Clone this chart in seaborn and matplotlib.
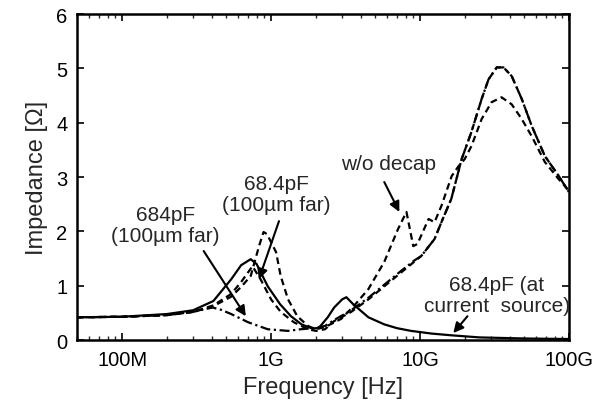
import numpy as np
import pandas as pd
import matplotlib
matplotlib.use("Agg")
import matplotlib.pyplot as plt
import seaborn as sns

# ---- data (frequency in Hz, impedance in Ohm) ----
f_wo = [5e7, 1e8, 2e8, 3e8, 4e8, 5.4e8, 6.3e8, 7.3e8, 8.3e8, 8.9e8, 9.4e8, 1.08e9, 1.16e9,
        1.3e9, 1.5e9, 1.77e9, 2.0e9, 2.3e9, 2.95e9, 3.6e9, 4.5e9, 5.75e9, 7.1e9, 8.1e9,
        9.0e9, 9.6e9, 1.14e10, 1.25e10, 1.39e10, 1.63e10, 1.81e10, 1.99e10, 2.21e10,
        2.59e10, 3.02e10, 3.52e10, 4.12e10, 4.81e10, 5.62e10, 6.87e10, 8.53e10, 1e11]
z_wo = [0.42, 0.43, 0.46, 0.52, 0.61, 0.80, 0.98, 1.18, 1.73, 1.99, 1.95, 1.62, 1.18,
        0.75, 0.44, 0.26, 0.20, 0.24, 0.39, 0.63, 0.94, 1.44, 2.04, 2.36,
        1.73, 1.77, 2.23, 2.17, 2.47, 3.02, 3.20, 3.33, 3.57,
        4.07, 4.38, 4.47, 4.34, 4.07, 3.75, 3.28, 2.96, 2.75]

f_far68 = [5e7, 1e8, 2e8, 3e8, 4.1e8, 5.4e8, 6.3e8, 7.5e8, 8.5e8, 1e9, 1.16e9, 1.42e9,
           1.77e9, 2.0e9, 2.3e9, 2.65e9, 3.45e9, 4.5e9, 5.75e9, 7.5e9, 9.2e9, 1.02e10,
           1.25e10, 1.39e10, 1.62e10, 1.9e10, 2.21e10, 2.59e10, 2.88e10, 3.27e10, 3.63e10,
           4.12e10, 4.81e10, 5.62e10, 6.87e10, 8.53e10, 1e11]
z_far68 = [0.42, 0.43, 0.46, 0.52, 0.64, 0.85, 1.07, 1.36, 1.12, 0.75, 0.52, 0.33,
           0.20, 0.17, 0.20, 0.35, 0.52, 0.75, 0.99, 1.25, 1.45, 1.55,
           1.86, 2.17, 2.60, 3.33, 3.83, 4.44, 4.80, 5.02, 5.02,
           4.86, 4.44, 3.94, 3.39, 3.02, 2.72]

f_far684 = [5e7, 1e8, 2e8, 3e8, 3.6e8, 4.05e8, 4.6e8, 5.4e8, 7e8, 9.5e8, 1.3e9, 1.58e9,
            1.9e9, 2.3e9, 2.65e9, 3.45e9, 4.5e9, 5.75e9, 7.5e9, 9.2e9, 1.02e10,
            1.25e10, 1.39e10, 1.62e10, 1.9e10, 2.21e10, 2.59e10, 2.88e10, 3.27e10, 3.63e10,
            4.12e10, 4.81e10, 5.62e10, 6.87e10, 8.53e10, 1e11]
z_far684 = [0.42, 0.43, 0.46, 0.52, 0.57, 0.60, 0.56, 0.48, 0.33, 0.20, 0.17, 0.20,
            0.22, 0.26, 0.37, 0.55, 0.78, 1.02, 1.28, 1.47, 1.55,
            1.86, 2.17, 2.60, 3.33, 3.83, 4.44, 4.80, 5.02, 5.02,
            4.86, 4.44, 3.94, 3.39, 3.02, 2.72]

f_cs = [5e7, 1e8, 2e8, 3e8, 4.1e8, 5.4e8, 6.3e8, 7.3e8, 8.0e8, 9.5e8, 1.15e9, 1.36e9,
        1.6e9, 1.9e9, 2.1e9, 2.4e9, 2.65e9, 3.0e9, 3.2e9, 3.56e9, 4.5e9, 5.75e9, 7e9,
        8.7e9, 1.2e10, 1.6e10, 2.5e10, 5e10, 1e11]
z_cs = [0.42, 0.43, 0.48, 0.55, 0.72, 1.12, 1.38, 1.49, 1.40, 0.99, 0.66, 0.44,
        0.29, 0.21, 0.23, 0.42, 0.60, 0.75, 0.79, 0.66, 0.42, 0.29, 0.22,
        0.17, 0.12, 0.09, 0.05, 0.03, 0.02]

xticks = [1e8, 1e9, 1e10, 1e11]
xticklabels = ["100M", "1G", "10G", "100G"]
yticks = [0, 1, 2, 3, 4, 5, 6]

# ---- plot ----
sns.set_style("ticks")
plt.rcParams["font.family"] = ["Liberation Sans", "DejaVu Sans"]
plt.rcParams["mathtext.default"] = "regular"

fig = plt.figure(figsize=(6.08, 4.10), dpi=100)
ax = fig.add_axes([0.127, 0.168, 0.809, 0.795])

lw = 1.6
curves = [
    (f_wo, z_wo, (0, (3.0, 1.9))),
    (f_far68, z_far68, (0, (3.0, 1.9))),
    (f_far684, z_far684, (2.4, (4.5, 1.6, 1.0, 1.6))),
    (f_cs, z_cs, "-"),
]
for fx, zy, ls in curves:
    df = pd.DataFrame({"f": fx, "z": zy})
    sns.lineplot(data=df, x="f", y="z", ax=ax, color="black", lw=lw,
                 linestyle=ls, estimator=None, sort=False)

ax.set_xscale("log")
ax.set_xlim(5e7, 1e11)
ax.set_ylim(0, 6)
ax.set_xticks(xticks)
ax.set_xticklabels(xticklabels)
ax.set_yticks(yticks)
ax.set_xlabel("Frequency [Hz]", fontsize=17, labelpad=5)
ax.set_ylabel("Impedance [Ω]", fontsize=17, labelpad=6)
ax.tick_params(axis="both", which="major", direction="in", length=5, width=1.2,
               top=True, right=True, labelsize=14.5, pad=7, colors="black")
ax.tick_params(axis="x", which="minor", direction="in", length=3, width=1.0,
               top=True, bottom=True)
for sp in ax.spines.values():
    sp.set_linewidth(1.8)
    sp.set_color("black")

tfs = 15
arrow = dict(arrowstyle="-|>", color="black", lw=1.5, mutation_scale=15,
             shrinkA=0, shrinkB=0)
ax.annotate("", xy=(6.77e8, 0.44), xytext=(3.53e8, 1.64), arrowprops=arrow)
ax.annotate("", xy=(8.28e8, 1.12), xytext=(1.13e9, 2.19), arrowprops=arrow)
ax.annotate("", xy=(7.26e9, 2.36), xytext=(5.75e9, 2.91), arrowprops=arrow)
ax.annotate("", xy=(1.67e10, 0.13), xytext=(2.08e10, 0.44), arrowprops=arrow)

ax.text(1.96e8, 2.12, "684pF\n(100µm far)", ha="center", va="center",
        fontsize=tfs, linespacing=1.15)
ax.text(1.09e9, 2.69, "68.4pF\n(100µm far)", ha="center", va="center",
        fontsize=tfs, linespacing=1.15)
ax.text(6.1e9, 3.26, "w/o decap", ha="center", va="center", fontsize=tfs)
ax.text(3.27e10, 0.83, "68.4pF (at\ncurrent  source)", ha="center", va="center",
        fontsize=tfs, linespacing=1.1)

fig.savefig("out.png", dpi=100)
